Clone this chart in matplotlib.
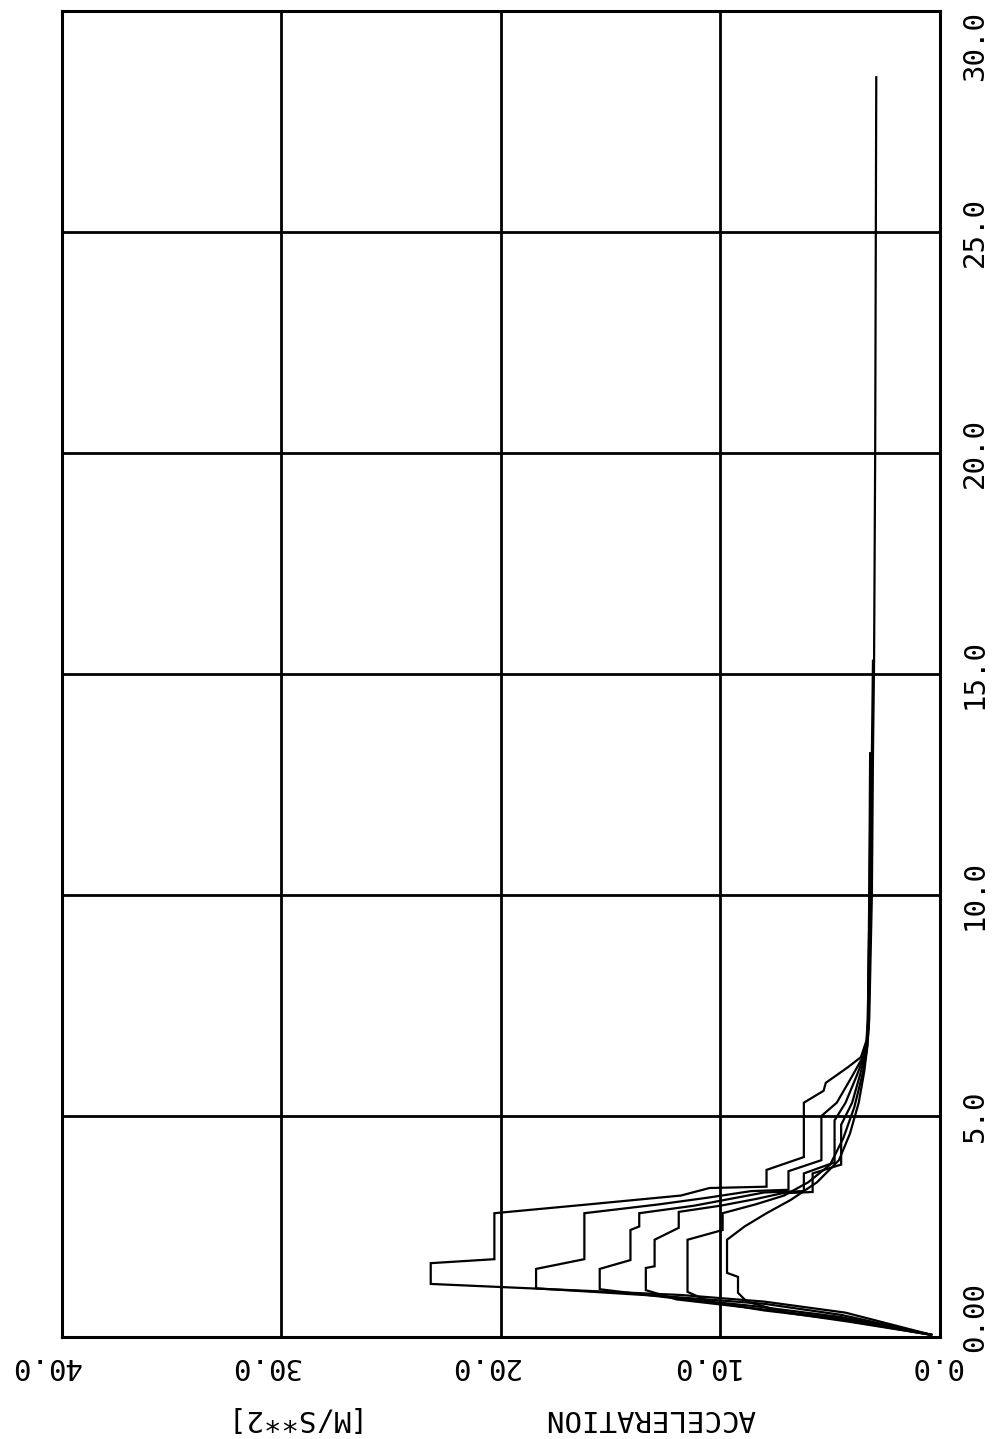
import matplotlib
matplotlib.use("Agg")
import matplotlib.pyplot as plt
import matplotlib.transforms as mtransforms

# time [s] and acceleration [m/s**2] for each run
run1_t = [0.05, 0.55, 0.8, 0.95, 1.2, 1.67, 1.76, 2.8, 3.0, 3.2, 3.37, 3.4, 3.78, 4.07, 5.3, 5.57, 5.75, 6.1, 6.33, 6.7, 7.2, 10.0, 13.2]
run1_a = [0.4, 4.3, 8.0, 11.8, 23.2, 23.2, 20.3, 20.3, 16.0, 11.8, 10.5, 7.9, 7.9, 6.2, 6.2, 5.3, 5.2, 4.2, 3.6, 3.35, 3.28, 3.22, 3.18]

run2_t = [0.05, 0.5, 0.75, 0.92, 1.1, 1.54, 1.76, 2.8, 3.0, 3.15, 3.3, 3.33, 3.75, 4.0, 5.0, 5.3, 5.9, 6.3, 6.7, 7.2, 10.0, 13.2]
run2_a = [0.4, 4.5, 8.0, 12.5, 18.4, 18.4, 16.2, 16.2, 12.8, 10.6, 8.6, 6.9, 6.9, 5.4, 5.4, 4.7, 4.0, 3.55, 3.33, 3.26, 3.2, 3.16]

run3_t = [0.05, 0.45, 0.7, 0.9, 1.08, 1.54, 1.74, 2.42, 2.5, 2.8, 2.97, 3.12, 3.27, 3.3, 3.7, 3.95, 4.9, 5.3, 5.9, 6.4, 6.8, 10.0, 13.2]
run3_a = [0.4, 4.5, 8.5, 12.5, 15.5, 15.5, 14.1, 14.1, 13.7, 13.7, 11.2, 9.6, 8.0, 6.2, 6.2, 4.8, 4.8, 4.3, 3.8, 3.42, 3.3, 3.2, 3.15]

run4_t = [0.05, 0.42, 0.65, 0.85, 1.06, 1.56, 1.6, 2.2, 2.47, 2.83, 2.97, 3.12, 3.25, 3.28, 3.7, 3.9, 4.8, 5.3, 6.0, 6.5, 7.0, 10.0, 13.2]
run4_a = [0.4, 4.6, 8.5, 12.0, 13.4, 13.4, 13.0, 13.0, 11.9, 11.9, 10.0, 8.4, 7.2, 5.8, 5.8, 4.5, 4.5, 4.0, 3.6, 3.35, 3.27, 3.18, 3.14]

run5_t = [0.05, 0.4, 0.6, 0.8, 1.02, 2.2, 2.42, 2.8, 3.0, 3.2, 3.5, 3.9, 4.5, 5.2, 6.0, 6.5, 7.0, 10.0, 13.2, 15.3]
run5_a = [0.4, 4.6, 8.0, 10.5, 11.5, 11.5, 9.9, 9.9, 8.4, 7.1, 6.0, 5.0, 4.4, 3.9, 3.5, 3.33, 3.25, 3.15, 3.1, 3.05]

run6_t = [0.05, 0.35, 0.55, 0.8, 1.0, 1.36, 1.45, 2.2, 2.5, 2.8, 3.1, 3.5, 4.0, 4.6, 5.3, 6.0, 6.6, 7.2, 10.0, 13.2, 15.3, 20.0, 28.5]
run6_a = [0.4, 4.2, 7.0, 8.8, 9.2, 9.2, 9.7, 9.7, 8.9, 7.9, 6.8, 5.6, 4.6, 4.1, 3.7, 3.45, 3.3, 3.22, 3.1, 3.05, 3.0, 2.95, 2.9]

runs = [(run1_t, run1_a), (run2_t, run2_a), (run3_t, run3_a),
        (run4_t, run4_a), (run5_t, run5_a), (run6_t, run6_a)]

time_ticks = [0, 5, 10, 15, 20, 25, 30]
time_labels = ["0.00", "5.0", "10.0", "15.0", "20.0", "25.0", "30.0"]
acc_ticks = [0, 10, 20, 30, 40]
acc_labels = ["0.0", "10.0", "20.0", "30.0", "40.0"]

font = "DejaVu Sans Mono"

fig = plt.figure(figsize=(9.92, 14.39), dpi=100)
ax = fig.add_axes([0.0625, 0.0709, 0.885, 0.9215])

for t, a in runs:
    ax.plot(a, t, color="black", lw=1.6, solid_joinstyle="miter")

ax.set_xlim(40, 0)
ax.set_ylim(0, 30)
ax.set_xticks(acc_ticks)
ax.set_yticks(time_ticks)
ax.grid(True, color="black", lw=2.0)
ax.tick_params(length=0, labelleft=False, labelbottom=False)
for sp in ax.spines.values():
    sp.set_linewidth(2.2)

# time labels on the right, written upwards
trans_y = mtransforms.blended_transform_factory(ax.transAxes, ax.transData)
for tk, lab in zip(time_ticks, time_labels):
    pos = tk
    if tk == 0:
        pos = 0.45
    elif tk == 30:
        pos = 29.2  # keep it inside the canvas
    ax.text(1.04, pos, lab, transform=trans_y, rotation=90, ha="center", va="center",
            fontsize=21, family=font, clip_on=False)

# acceleration labels below, upside down
trans_x = mtransforms.blended_transform_factory(ax.transData, ax.transAxes)
for tk, lab in zip(acc_ticks, acc_labels):
    pos = 0.2 if tk == 0 else tk + 0.77
    ax.text(pos, -0.022, lab, transform=trans_x, rotation=180, ha="center", va="center",
            fontsize=21, family=font, clip_on=False)

ax.text(13.2, -0.061, "ACCELERATION", transform=trans_x, rotation=180, ha="center",
        va="center", fontsize=21, family=font, clip_on=False)
ax.text(29.8, -0.061, "[M/S**2]", transform=trans_x, rotation=180, ha="center",
        va="center", fontsize=21, family=font, clip_on=False)

fig.savefig("out.png", dpi=100)
